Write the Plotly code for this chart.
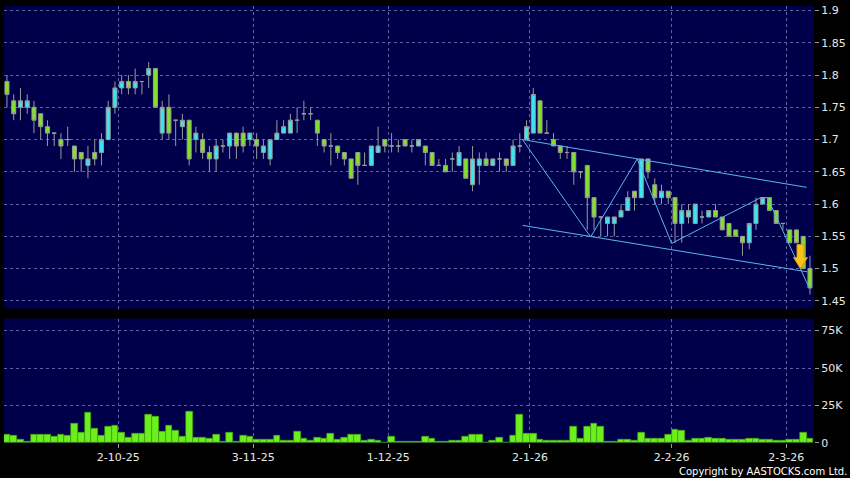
import plotly.graph_objects as go

# ---- data (index 0 = first trading day shown) ----
opens = [1.79,1.76,1.75,1.75,1.75,1.74,1.72,1.71,1.70,1.70,
         1.69,1.68,1.66,1.68,1.68,1.70,1.75,1.78,1.79,1.78,
         1.79,1.80,1.81,1.71,1.75,1.73,1.72,1.73,1.70,1.70,
         1.68,1.67,1.69,1.69,1.71,1.71,1.70,1.70,1.68,1.67,
         1.70,1.71,1.71,1.73,1.74,1.74,1.73,1.70,1.69,1.69,
         1.68,1.67,1.68,1.66,1.66,1.68,1.70,1.69,1.69,1.70,
         1.69,1.69,1.69,1.68,1.66,1.66,1.67,1.66,1.67,1.63,
         1.66,1.67,1.66,1.67,1.67,1.66,1.69,1.70,1.71,1.76,
         1.71,1.70,1.69,1.68,1.68,1.65,1.66,1.61,1.58,1.57,
         1.57,1.58,1.59,1.62,1.61,1.67,1.63,1.61,1.62,1.61,
         1.57,1.58,1.57,1.58,1.58,1.59,1.58,1.57,1.56,1.55,
         1.54,1.57,1.60,1.61,1.59,1.57,1.56,1.56,1.55,1.50]
highs = [1.80,1.77,1.78,1.77,1.76,1.74,1.73,1.71,1.71,1.72,
         1.69,1.68,1.69,1.70,1.71,1.76,1.79,1.80,1.80,1.81,
         1.79,1.82,1.81,1.76,1.77,1.73,1.74,1.73,1.72,1.71,
         1.69,1.70,1.70,1.71,1.71,1.72,1.71,1.71,1.70,1.70,
         1.73,1.73,1.74,1.75,1.76,1.75,1.73,1.70,1.71,1.69,
         1.68,1.67,1.68,1.68,1.69,1.72,1.70,1.71,1.70,1.70,
         1.70,1.70,1.69,1.68,1.67,1.67,1.68,1.69,1.67,1.69,
         1.68,1.68,1.67,1.68,1.67,1.70,1.71,1.73,1.78,1.76,
         1.73,1.71,1.69,1.69,1.68,1.65,1.66,1.61,1.58,1.58,
         1.58,1.60,1.62,1.62,1.67,1.67,1.64,1.63,1.62,1.61,
         1.60,1.60,1.60,1.59,1.59,1.60,1.58,1.57,1.56,1.55,
         1.57,1.61,1.61,1.61,1.59,1.57,1.56,1.56,1.55,1.52]
lows = [1.75,1.73,1.73,1.74,1.71,1.70,1.69,1.69,1.67,1.69,
        1.65,1.65,1.64,1.66,1.66,1.70,1.74,1.77,1.77,1.77,
        1.77,1.78,1.75,1.70,1.70,1.69,1.70,1.66,1.68,1.67,
        1.65,1.65,1.68,1.67,1.67,1.68,1.69,1.67,1.67,1.66,
        1.70,1.71,1.71,1.71,1.73,1.73,1.69,1.68,1.66,1.67,
        1.66,1.64,1.63,1.66,1.66,1.68,1.68,1.68,1.68,1.69,
        1.68,1.69,1.66,1.66,1.66,1.65,1.65,1.66,1.64,1.62,
        1.63,1.66,1.66,1.65,1.65,1.66,1.68,1.70,1.71,1.71,
        1.71,1.69,1.67,1.67,1.63,1.64,1.56,1.56,1.55,1.55,
        1.55,1.58,1.59,1.59,1.61,1.64,1.60,1.60,1.60,1.54,
        1.54,1.57,1.57,1.57,1.58,1.58,1.56,1.55,1.55,1.52,
        1.53,1.56,1.60,1.59,1.57,1.56,1.54,1.54,1.50,1.46]
closes = [1.77,1.74,1.76,1.76,1.73,1.72,1.71,1.71,1.69,1.70,
          1.67,1.67,1.67,1.67,1.70,1.75,1.78,1.79,1.78,1.79,
          1.79,1.81,1.75,1.75,1.71,1.73,1.73,1.67,1.71,1.68,
          1.67,1.69,1.69,1.71,1.69,1.69,1.71,1.69,1.69,1.70,
          1.71,1.72,1.73,1.73,1.74,1.74,1.71,1.69,1.69,1.68,
          1.67,1.64,1.66,1.66,1.69,1.69,1.69,1.69,1.69,1.69,
          1.69,1.70,1.68,1.66,1.66,1.65,1.67,1.68,1.64,1.67,
          1.67,1.66,1.67,1.67,1.66,1.69,1.69,1.72,1.77,1.71,
          1.71,1.69,1.68,1.68,1.65,1.65,1.61,1.58,1.58,1.58,
          1.58,1.59,1.61,1.61,1.67,1.65,1.61,1.62,1.61,1.57,
          1.59,1.59,1.60,1.58,1.59,1.58,1.56,1.55,1.55,1.54,
          1.57,1.60,1.61,1.59,1.57,1.57,1.54,1.54,1.50,1.47]
volumes_k = [5.8,4.9,2.5,0.9,5.4,5.4,5.6,4.5,5.6,5.1,
             12.7,6.7,20.5,9.8,5.1,10.9,11.6,6.7,3.8,6.3,
             6.3,19.0,17.4,7.8,11.8,8.5,4.5,20.8,3.8,3.8,
             2.7,5.4,0.9,6.7,1.1,4.7,4.0,2.2,2.2,2.2,
             5.1,1.8,1.8,7.4,3.1,1.8,3.6,3.1,6.5,2.5,
             3.4,5.4,5.4,1.3,2.2,1.3,0.4,4.2,0.9,0.7,
             0.9,0.7,4.2,3.1,1.1,1.1,1.8,1.8,4.2,5.4,
             5.4,0.4,1.3,3.4,0.4,4.9,19.0,6.0,6.0,2.2,
             1.3,1.3,1.3,1.3,11.2,2.7,11.2,13.0,10.7,0.9,
             0.9,2.2,2.2,1.3,6.9,3.1,3.1,3.1,5.8,8.9,
             8.0,1.8,2.7,2.7,3.4,3.1,2.7,2.2,2.2,2.2,
             3.1,2.7,2.2,2.2,1.8,1.3,2.2,2.2,7.1,2.7]

# x tick labels (day-month-year) and their trading-day index
tick_labels = ["2-10-25", "3-11-25", "1-12-25", "2-1-26", "2-2-26", "2-3-26"]
tick_index = [17, 37, 57, 78, 99, 116]

price_ticks = [1.45, 1.5, 1.55, 1.6, 1.65, 1.7, 1.75, 1.8, 1.85, 1.9]
price_tick_text = ["1.45", "1.5", "1.55", "1.6", "1.65", "1.7", "1.75", "1.8", "1.85", "1.9"]
vol_ticks = [0, 25, 50, 75]
vol_tick_text = ["0", "25K", "50K", "75K"]

# trend channel and zig-zag drawn on the chart
upper_x = [76.4, 118.5]
upper_y = [1.700, 1.626]
lower_x = [76.4, 118.6]
lower_y = [1.567, 1.495]
zig_x = [76.4, 86.5, 93.4, 98.5, 111.7, 112.7, 118.9]
zig_y = [1.700, 1.549, 1.670, 1.539, 1.610, 1.610, 1.470]
arrow_x = 117.6
arrow_y = 1.50

x = list(range(len(closes)))
n = len(closes)

NAVY = "#00004a"
GRID = "#5a64a0"
TXT = "#e8e8e8"
LINE = "#5ab4f0"

fig = go.Figure()
fig.add_trace(go.Candlestick(
    x=x, open=opens, high=highs, low=lows, close=closes,
    increasing=dict(fillcolor="#3ae6f2", line=dict(color="#9a9a9a", width=1)),
    decreasing=dict(fillcolor="#80e424", line=dict(color="#9a9a9a", width=1)),
    xaxis="x", yaxis="y", showlegend=False, hoverinfo="skip", whiskerwidth=0,
))
for xs, ys in [(upper_x, upper_y), (lower_x, lower_y), (zig_x, zig_y)]:
    fig.add_trace(go.Scatter(x=xs, y=ys, mode="lines", line=dict(color=LINE, width=1),
                             xaxis="x", yaxis="y", showlegend=False, hoverinfo="skip"))
fig.add_trace(go.Bar(
    x=x, y=volumes_k, marker=dict(color="#6cf01c", line=dict(color="#3e9a0c", width=0.6)),
    xaxis="x2", yaxis="y2", showlegend=False, hoverinfo="skip",
))

# yellow down arrow (pixel-sized, anchored at its tip)
fig.add_shape(type="path", xref="x", yref="y", xsizemode="pixel", ysizemode="pixel",
              xanchor=arrow_x, yanchor=arrow_y,
              path="M -3.5,24 L 3.5,24 L 3.5,11 L 7,11 L 0,0 L -7,11 L -3.5,11 Z",
              fillcolor="#f8c41c", line=dict(color="#e0900e", width=1), layer="above")

grid_pos = [i - 0.5 for i in tick_index]
xr = [-0.44, n - 1 + 0.6]
common_x = dict(range=xr, tickvals=grid_pos, showgrid=True, gridcolor=GRID,
                griddash="3px,3px", gridwidth=1, zeroline=False, showline=False,
                fixedrange=True)

fig.update_layout(
    width=850, height=478,
    margin=dict(l=4, r=35, t=4, b=35),
    paper_bgcolor="#000000", plot_bgcolor=NAVY,
    font=dict(family="DejaVu Sans", size=11, color=TXT),
    hovermode=False, boxgap=0.15, bargap=0.0,
    xaxis=dict(**common_x, anchor="y", showticklabels=False, ticks="",
               rangeslider=dict(visible=False), domain=[0, 1]),
    xaxis2=dict(**common_x, anchor="y2", matches="x", ticktext=tick_labels,
                showticklabels=True, ticks="outside", ticklen=4, tickcolor="#9a9a9a",
                tickfont=dict(size=11, color=TXT), domain=[0, 1]),
    yaxis=dict(domain=[0.3075, 1.0], range=[1.438, 1.907], side="right",
               tickvals=price_ticks, ticktext=price_tick_text,
               showgrid=True, gridcolor=GRID, griddash="3px,3px", zeroline=False,
               ticks="outside", ticklen=4, tickcolor="#9a9a9a", fixedrange=True),
    yaxis2=dict(domain=[0.0, 0.2847], range=[0, 83], side="right",
                tickvals=vol_ticks, ticktext=vol_tick_text,
                showgrid=True, gridcolor=GRID, griddash="3px,3px", zeroline=False,
                ticks="outside", ticklen=4, tickcolor="#9a9a9a", fixedrange=True),
    annotations=[dict(text="Copyright by AASTOCKS.com Ltd.", xref="paper", yref="paper",
                      x=1.043, y=-0.066, xanchor="right", yanchor="middle",
                      showarrow=False, font=dict(size=10, color="#ffffff"))],
)

fig.write_html("out.html", config={"displayModeBar": False},
               post_script="document.body.style.margin='0';document.body.style.background='#000';")
